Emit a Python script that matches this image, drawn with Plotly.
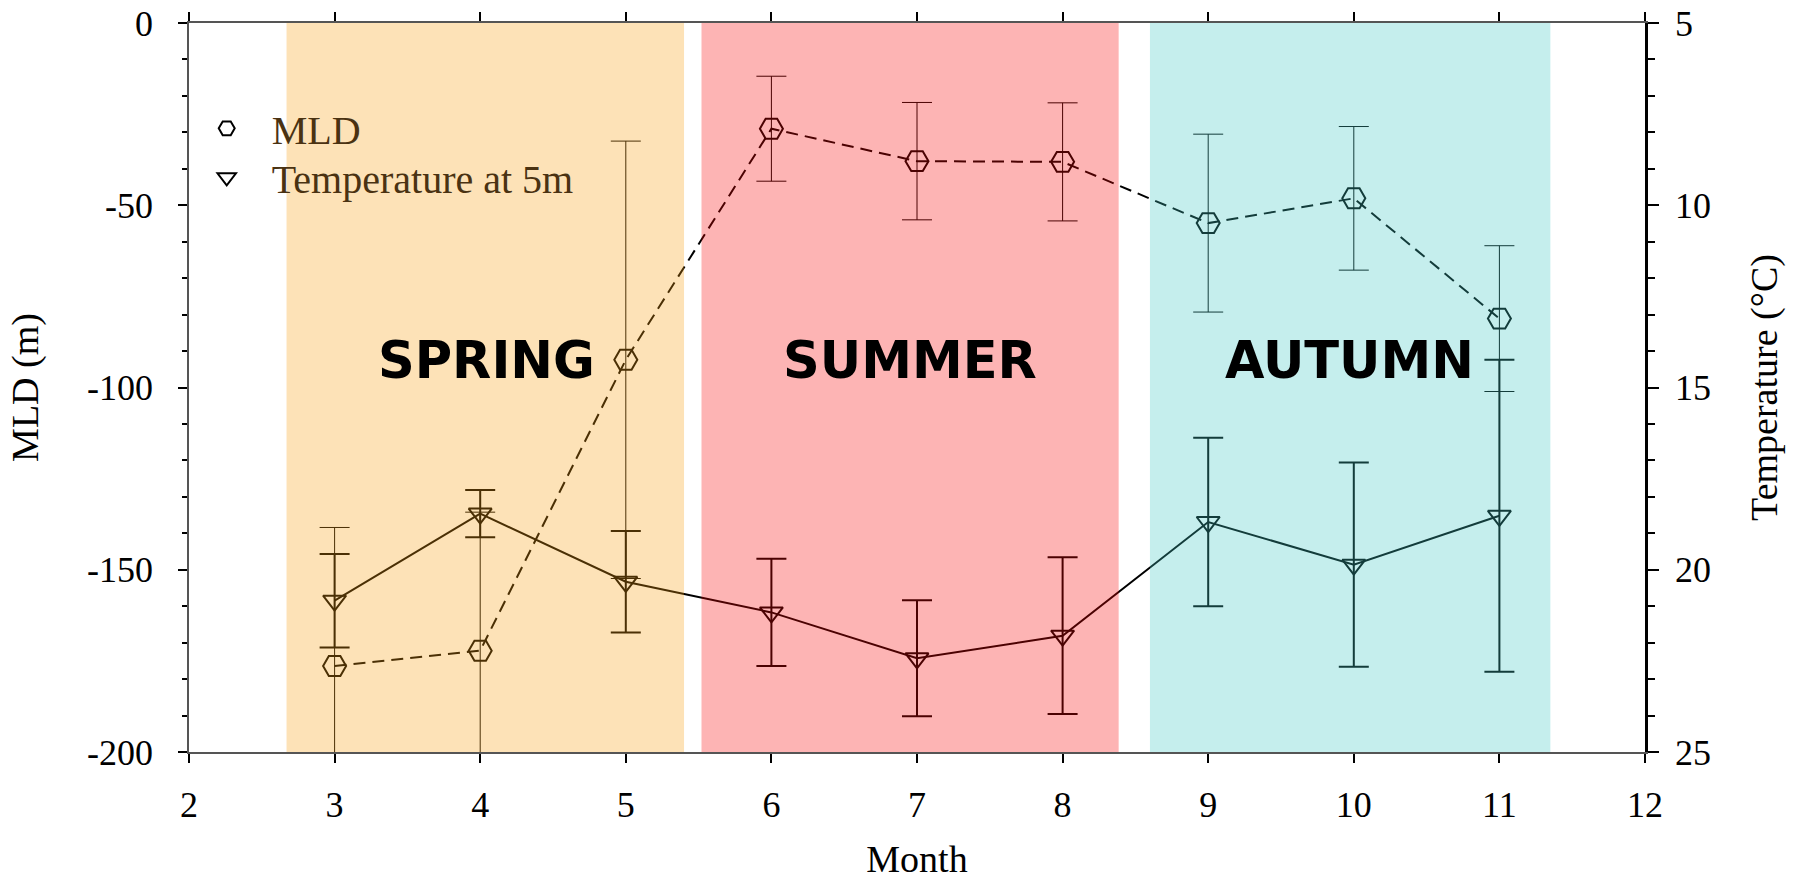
import plotly.graph_objects as go

# ---- data ----
months = [3, 4, 5, 6, 7, 8, 9, 10, 11]
mld = [-176.4, -172.2, -92.4, -29.0, -37.9, -38.1, -54.9, -48.1, -81.1]
mld_err = [38.0, 38.0, 60.0, 14.4, 16.1, 16.2, 24.4, 19.7, 20.0]
temp = [20.85, 18.46, 20.33, 21.17, 22.43, 21.81, 18.69, 19.86, 18.52]
temp_err = [1.28, 0.65, 1.39, 1.47, 1.59, 2.15, 2.31, 2.80, 4.28]

mld_ticks = [0, -50, -100, -150, -200]
mld_ticktext = ["0", "-50", "-100", "-150", "-200"]

seasons = ["SPRING", "SUMMER", "AUTUMN"]
season_start = [2.67, 5.52, 8.60]
season_end = [5.40, 8.385, 11.35]
season_label_x = [4.04, 6.95, 9.97]
season_label_y = [-92.7, -92.7, -92.7]
season_colors = ["rgb(248,158,18)", "rgb(248,8,8)", "rgb(62,198,195)"]

series_names = ["MLD", "Temperature at 5m"]

fig = go.Figure()

fig.add_trace(go.Scatter(
    x=months, y=mld, mode="lines+markers", name=series_names[0], showlegend=False,
    line=dict(color="black", width=2, dash="12px,7px"),
    marker=dict(symbol="hexagon2-open", size=23, color="black", line=dict(width=2, color="black")),
    error_y=dict(type="data", array=mld_err, visible=True, thickness=1, width=15, color="black"),
    yaxis="y",
))
fig.add_trace(go.Scatter(
    x=months, y=temp, mode="lines+markers", name=series_names[1], showlegend=False,
    line=dict(color="black", width=2),
    marker=dict(symbol="triangle-down-open", size=20, color="black", line=dict(width=2, color="black")),
    error_y=dict(type="data", array=temp_err, visible=True, thickness=2, width=15, color="black"),
    yaxis="y2",
))
# legend-only entries (markers only, like the reference legend)
fig.add_trace(go.Scatter(
    x=[None], y=[None], mode="markers", name=series_names[0], legend="legend",
    marker=dict(symbol="hexagon2-open", size=23, color="black", line=dict(width=2, color="black")),
))
fig.add_trace(go.Scatter(
    x=[None], y=[None], mode="markers", name=series_names[1], legend="legend2",
    marker=dict(symbol="triangle-down-open", size=20, color="black", line=dict(width=2, color="black")),
))

for s0, s1, c in zip(season_start, season_end, season_colors):
    fig.add_shape(type="rect", xref="x", yref="paper", x0=s0, x1=s1, y0=0, y1=1,
                  fillcolor=c, opacity=0.3, line=dict(width=0), layer="above")

for name, lx, ly in zip(seasons, season_label_x, season_label_y):
    fig.add_annotation(x=lx, y=ly, xref="x", yref="y", text=name, showarrow=False,
                       font=dict(family="DejaVu Sans", size=51, color="black", weight="bold"))

serif = "Liberation Serif"
legend_font = dict(family=serif, size=40, color="#4a3212")
fig.update_layout(
    width=1795, height=880,
    margin=dict(l=189, r=150, t=23, b=128, autoexpand=False),
    plot_bgcolor="white", paper_bgcolor="white",
    font=dict(family=serif, size=36, color="black"),
    showlegend=True,
    legend=dict(x=-0.005, y=0.8555, xanchor="left", yanchor="middle", bgcolor="rgba(0,0,0,0)",
                font=legend_font, itemwidth=80),
    legend2=dict(x=-0.005, y=0.7883, xanchor="left", yanchor="middle", bgcolor="rgba(0,0,0,0)",
                 font=legend_font, itemwidth=80),
    xaxis=dict(range=[2, 12], tick0=2, dtick=1, ticks="outside", ticklen=9, tickwidth=1.5,
               tickcolor="black", showline=True, linecolor="#555555", linewidth=1.5,
               mirror="ticks", showgrid=False, zeroline=False, ticklabelstandoff=11,
               ticklabeloverflow="allow",
               automargin=False, title=dict(text="Month", standoff=38, font=dict(size=38))),
    yaxis=dict(range=[-200, 0], tickvals=mld_ticks, ticktext=mld_ticktext, ticks="outside",
               ticklen=9, tickwidth=1.5,
               tickcolor="black", showline=True, linecolor="#555555", linewidth=1.5,
               minor=dict(dtick=10, ticks="outside", ticklen=5, tickwidth=1.5, tickcolor="black"),
               showgrid=False, zeroline=False, ticklabelstandoff=18, automargin=False,
               ticklabeloverflow="allow",
               title=dict(text="MLD (m)", standoff=37, font=dict(size=38))),
    yaxis2=dict(overlaying="y", side="right", range=[25, 5], tick0=5, dtick=5, ticks="outside",
                ticklen=11, tickwidth=2, tickcolor="black", showline=True, linecolor="black",
                linewidth=2.5,
                minor=dict(dtick=1, ticks="outside", ticklen=7, tickwidth=2, tickcolor="black"),
                showgrid=False, zeroline=False, ticklabelstandoff=9, automargin=False,
                ticklabeloverflow="allow",
                title=dict(text="Temperature (°C)", standoff=41, font=dict(size=38))),
)

# remove the default 8px page margin so the figure fills the window exactly
fig.write_html("out.html", config={"displayModeBar": False},
               post_script="document.body.style.margin='0';")
